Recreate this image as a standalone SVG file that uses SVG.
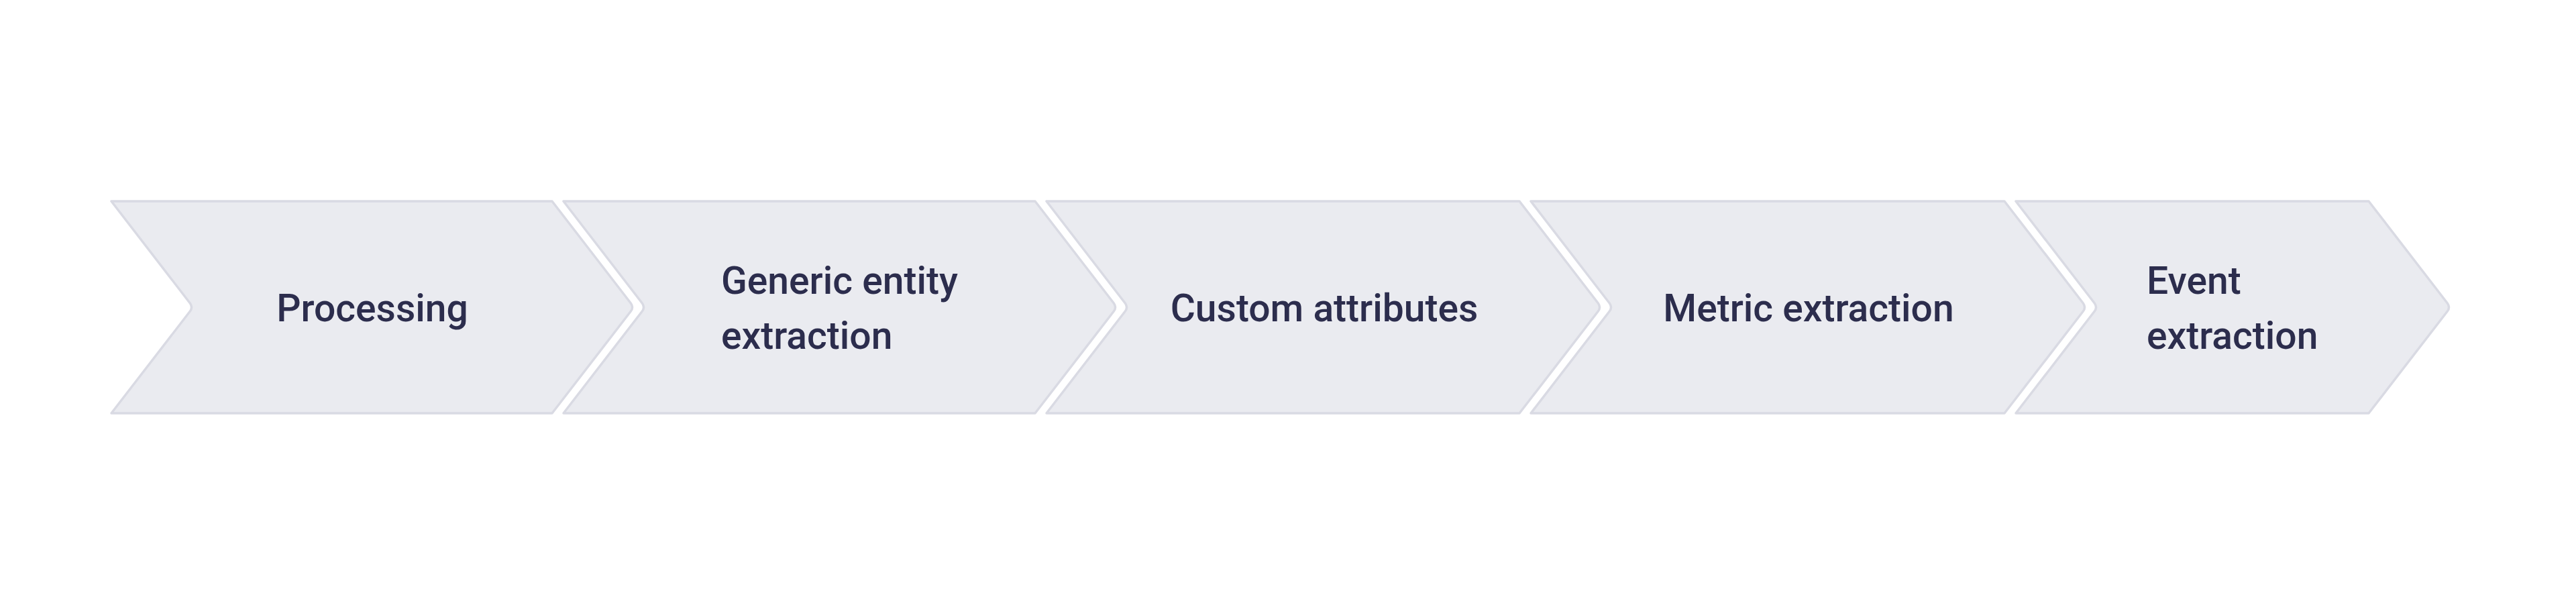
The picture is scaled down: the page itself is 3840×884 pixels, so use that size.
<svg xmlns="http://www.w3.org/2000/svg" width="3840" height="884" viewBox="0 0 3840 884">
  <style>
    .chev { fill: #EAEBF0; stroke: #D9DAE3; stroke-width: 3.5; stroke-linejoin: round; }
    .lbl { font-family: Roboto, "Liberation Sans", Arial, sans-serif; font-weight: 500; font-size: 57px; fill: #2C2D4D; }
    .mid { text-anchor: middle; }
  </style>
  <rect x="0" y="0" width="3840" height="884" fill="#FFFFFF"/>
  <g id="connectors"></g>
  <g id="node-processing">
    <path class="chev" d="M166,300 L823,300 L940.1,451.7 Q945,458 940.1,464.3 L823,616 L166,616 L283.1,464.3 Q288,458 283.1,451.7 Z"/>
    <text class="lbl mid" x="555" y="479">Processing</text>
  </g>
  <g id="node-generic-entity-extraction">
    <path class="chev" d="M840,300 L1543,300 L1660.1,451.7 Q1665,458 1660.1,464.3 L1543,616 L840,616 L957.1,464.3 Q962,458 957.1,451.7 Z"/>
    <text class="lbl" x="1075" y="438">Generic entity</text>
    <text class="lbl" x="1075" y="520">extraction</text>
  </g>
  <g id="node-custom-attributes">
    <path class="chev" d="M1560,300 L2265,300 L2382.1,451.7 Q2387,458 2382.1,464.3 L2265,616 L1560,616 L1677.1,464.3 Q1682,458 1677.1,451.7 Z"/>
    <text class="lbl mid" x="1974" y="479">Custom attributes</text>
  </g>
  <g id="node-metric-extraction">
    <path class="chev" d="M2282,300 L2988,300 L3105.1,451.7 Q3110,458 3105.1,464.3 L2988,616 L2282,616 L2399.1,464.3 Q2404,458 2399.1,451.7 Z"/>
    <text class="lbl mid" x="2696" y="479">Metric extraction</text>
  </g>
  <g id="node-event-extraction">
    <path class="chev" d="M3005,300 L3531,300 L3648.1,451.7 Q3653,458 3648.1,464.3 L3531,616 L3005,616 L3122.1,464.3 Q3127,458 3122.1,451.7 Z"/>
    <text class="lbl" x="3200" y="438">Event</text>
    <text class="lbl" x="3200" y="520">extraction</text>
  </g>
</svg>
